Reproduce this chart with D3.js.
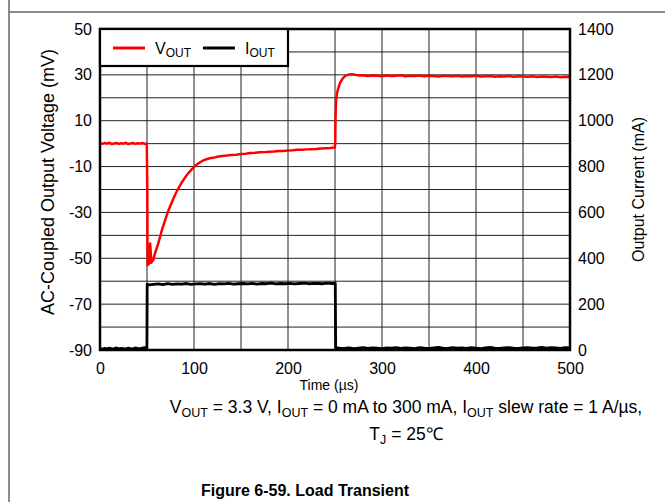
<!DOCTYPE html>
<html>
<head>
<meta charset="utf-8">
<script src="https://cdn.jsdelivr.net/npm/d3@7"></script>
<style>
  body { margin: 0; background: #fff; }
  svg { display: block; font-family: "Liberation Sans", Arial, sans-serif; }
</style>
</head>
<body>
<div id="chart"></div>
<script>
/* Load transient: AC-coupled Vout (left axis) and Iout (right axis) vs time */

// time axis (us) and tick labels
const xTicks = [0, 100, 200, 300, 400, 500];
const yLeftTicks = [-90, -70, -50, -30, -10, 10, 30, 50];
const yRightTicks = [0, 200, 400, 600, 800, 1000, 1200, 1400];

// Vout trace (mV)
const voutTime = [0, 2.5, 5, 7.5, 10, 12.5, 15, 17.5, 20, 22.5, 25, 27.5, 30, 32.5, 35, 37.5, 40, 42.5, 45, 47.5, 49.8,
  50.3, 50.6, 51.2, 52, 52.8, 53.3, 53.9, 54.6, 55.4, 56.5, 58, 60, 62, 64, 66, 68, 70, 72, 74, 76, 78, 80,
  83, 86, 89, 92, 95, 98, 101, 104, 107, 110, 114, 118, 122, 126, 130, 135, 140, 145, 150, 155, 160, 165,
  170, 175, 180, 185, 190, 195, 200, 205, 210, 215, 220, 225, 230, 235, 240, 245, 249.8,
  250.2, 250.6, 251.2, 252, 253, 254.5, 256, 258, 260, 262, 265, 268, 272, 276,
  280, 285, 290, 295, 300, 305, 310, 315, 320, 325, 330, 335, 340, 345, 350, 355, 360, 365, 370, 375,
  380, 385, 390, 395, 400, 405, 410, 415, 420, 425, 430, 435, 440, 445, 450, 455, 460, 465, 470, 475,
  480, 485, 490, 495, 500];
const voutMv = [0.2, -0.1, 0.3, 0.0, 0.4, -0.2, 0.1, 0.3, -0.1, 0.2, 0.0, 0.4, -0.2, 0.1, 0.3, -0.1, 0.2, 0.0, 0.3, -0.1, 0.1,
  -20, -53, -51, -52.5, -46, -43.5, -47, -52, -50.5, -51, -48.5, -46, -43.5, -40.5, -37.5, -35, -32.5, -30, -28, -26, -24, -22.2,
  -19.8, -17.6, -15.7, -13.9, -12.4, -11, -9.8, -8.8, -8, -7.3, -6.7, -6.3, -6.0, -5.6, -5.4, -5.2, -4.9, -4.8, -4.5, -4.4, -4.1, -4.0,
  -3.8, -3.7, -3.5, -3.4, -3.2, -3.2, -3.0, -2.9, -2.7, -2.7, -2.5, -2.4, -2.3, -2.1, -2.0, -1.9, -1.7,
  0, 12, 19, 21.5, 23.5, 25.5, 27, 28.3, 29.2, 29.8, 30.2, 30.3, 30.0, 29.7,
  29.8, 29.5, 29.7, 29.6, 29.4, 29.7, 29.5, 29.6, 29.8, 29.4, 29.6, 29.5, 29.7, 29.4, 29.6, 29.5, 29.3, 29.6, 29.5, 29.4,
  29.6, 29.3, 29.5, 29.4, 29.6, 29.3, 29.4, 29.5, 29.2, 29.4, 29.3, 29.5, 29.2, 29.4, 29.3, 29.2, 29.4, 29.1, 29.3, 29.2,
  29.1, 29.3, 29.0, 29.2, 29.1];

// Iout trace (mA)
const ioutTime = [0, 2.5, 5, 7.5, 10, 12.5, 15, 17.5, 20, 22.5, 25, 27.5, 30, 32.5, 35, 37.5, 40, 42.5, 45, 47.5, 49.9,
  50.2, 52, 57, 62, 67, 72, 77, 82, 87, 92, 97, 102, 107, 112, 117, 122, 127, 132, 137, 142, 147, 152,
  157, 162, 167, 172, 177, 182, 187, 192, 197, 202, 207, 212, 217, 222, 227, 232, 237, 242, 247, 250.3,
  250.7, 255, 260, 265, 270, 275, 280, 285, 290, 295, 300, 305, 310, 315, 320, 325, 330, 335, 340, 345,
  350, 355, 360, 365, 370, 375, 380, 385, 390, 395, 400, 405, 410, 415, 420, 425, 430, 435, 440, 445,
  450, 455, 460, 465, 470, 475, 480, 485, 490, 495, 500];
const ioutMa = [6, 4, 7, 5, 8, 5, 6, 9, 5, 7, 6, 4, 8, 6, 5, 9, 7, 6, 8, 10, 7,
  287, 284, 286, 288, 285, 289, 286, 288, 287, 290, 286, 288, 289, 287, 290, 286, 289, 288, 291, 287, 289, 290,
  288, 291, 287, 290, 289, 292, 288, 290, 289, 291, 288, 290, 292, 289, 291, 290, 289, 292, 290, 291,
  10, 8, 7, 9, 6, 8, 10, 7, 9, 8, 6, 9, 8, 10, 7, 9, 8, 6, 10, 8,
  7, 9, 11, 8, 7, 10, 8, 9, 7, 10, 8, 6, 9, 11, 8, 7, 9, 10, 8, 7,
  9, 10, 8, 9, 11, 8, 10, 9, 7, 10, 9];

const width = 665, height = 502,
      margin = ({ top: 29, right: 95, bottom: 152, left: 100 });

const svg = d3.select("#chart")
    .append("svg")
    .attr("width", width)
    .attr("height", height);

// page frame bits of the datasheet
svg.append("line").attr("x1", 9).attr("x2", 9).attr("y1", 0).attr("y2", height)
    .attr("stroke", "#666").attr("stroke-width", 1.5);
svg.append("line").attr("x1", 9).attr("x2", width).attr("y1", 12).attr("y2", 12)
    .attr("stroke", "#666").attr("stroke-width", 1.5);

const x = d3.scaleLinear().domain([0, 500]).range([margin.left, width - margin.right]);
const yL = d3.scaleLinear().domain([-90, 50]).range([height - margin.bottom, margin.top]);
const yR = d3.scaleLinear().domain([0, 1400]).range([height - margin.bottom, margin.top]);

// grid
const grid = svg.append("g").attr("stroke", "#222").attr("stroke-width", 1);
grid.selectAll(".gx").data(d3.range(50, 500, 50)).join("line")
    .attr("x1", d => x(d)).attr("x2", d => x(d))
    .attr("y1", yL(-90)).attr("y2", yL(50));
grid.selectAll(".gy").data(d3.range(-80, 50, 10)).join("line")
    .attr("x1", x(0)).attr("x2", x(500))
    .attr("y1", d => yL(d)).attr("y2", d => yL(d));

// traces
const vLine = d3.line().x((d, i) => x(voutTime[i])).y(d => yL(d));
const iLine = d3.line().x((d, i) => x(ioutTime[i])).y(d => yR(d));

svg.append("path").datum(ioutMa)
    .attr("fill", "none").attr("stroke", "#000").attr("stroke-width", 2.8)
    .attr("stroke-linejoin", "round")
    .attr("d", iLine);

svg.append("path").datum(voutMv)
    .attr("fill", "none").attr("stroke", "#ff0000").attr("stroke-width", 2.5)
    .attr("stroke-linejoin", "round")
    .attr("d", vLine);

// plot frame
svg.append("rect")
    .attr("x", x(0)).attr("y", yL(50))
    .attr("width", x(500) - x(0)).attr("height", yL(-90) - yL(50))
    .attr("fill", "none").attr("stroke", "#000").attr("stroke-width", 2.5);

// axes (labels only, no tick marks)
const plain = d => String(d);
const axB = svg.append("g")
    .attr("transform", `translate(0,${yL(-90)})`)
    .call(d3.axisBottom(x).tickValues(xTicks).tickFormat(plain).tickSize(0).tickPadding(13));
const axL = svg.append("g")
    .attr("transform", `translate(${x(0)},0)`)
    .call(d3.axisLeft(yL).tickValues(yLeftTicks).tickFormat(plain).tickSize(0).tickPadding(8));
const axR = svg.append("g")
    .attr("transform", `translate(${x(500)},0)`)
    .call(d3.axisRight(yR).tickValues(yRightTicks).tickFormat(plain).tickSize(0).tickPadding(8));

for (let ax of [axB, axL, axR]) {
    ax.select(".domain").remove();
    ax.selectAll("text")
        .attr("font-family", "Liberation Sans, Arial, sans-serif")
        .attr("font-size", 16)
        .attr("fill", "#000");
}

// axis titles
svg.append("text")
    .attr("x", 329).attr("y", 390)
    .attr("text-anchor", "middle").attr("font-size", 14)
    .text("Time (\u00b5s)");

svg.append("text")
    .attr("transform", "translate(54,182) rotate(-90)")
    .attr("text-anchor", "middle").attr("font-size", 18)
    .text("AC-Coupled Output Voltage (mV)");

svg.append("text")
    .attr("transform", `translate(644,${(yL(50) + yL(-90)) / 2}) rotate(-90)`)
    .attr("text-anchor", "middle").attr("font-size", 16)
    .text("Output Current (mA)");

// legend
const legend = svg.append("g");
legend.append("rect")
    .attr("x", x(0)).attr("y", yL(50))
    .attr("width", 188).attr("height", 37)
    .attr("fill", "#fff").attr("stroke", "#000").attr("stroke-width", 2.2);

const items = [
    { name: "V", sub: "OUT", color: "#ff0000", x0: 113 },
    { name: "I", sub: "OUT", color: "#000", x0: 203 }
];
for (let it of items) {
    legend.append("line")
        .attr("x1", it.x0).attr("x2", it.x0 + 32)
        .attr("y1", 48).attr("y2", 48)
        .attr("stroke", it.color).attr("stroke-width", 3);
    let t = legend.append("text")
        .attr("x", it.x0 + 42).attr("y", 54)
        .attr("font-size", 16);
    t.append("tspan").text(it.name);
    t.append("tspan").attr("dy", 3).attr("font-size", 12).text(it.sub);
}

// conditions and figure caption
const cap = svg.append("text")
    .attr("x", 406).attr("y", 413)
    .attr("text-anchor", "middle").attr("font-size", 17.5);
cap.append("tspan").text("V");
cap.append("tspan").attr("dy", 4).attr("font-size", 12.5).text("OUT");
cap.append("tspan").attr("dy", -4).text(" = 3.3 V, I");
cap.append("tspan").attr("dy", 4).attr("font-size", 12.5).text("OUT");
cap.append("tspan").attr("dy", -4).text(" = 0 mA to 300 mA, I");
cap.append("tspan").attr("dy", 4).attr("font-size", 12.5).text("OUT");
cap.append("tspan").attr("dy", -4).text(" slew rate = 1 A/\u00b5s,");

const cap2 = svg.append("text")
    .attr("x", 406).attr("y", 440)
    .attr("text-anchor", "middle").attr("font-size", 17.5);
cap2.append("tspan").text("T");
cap2.append("tspan").attr("dy", 4).attr("font-size", 12.5).text("J");
cap2.append("tspan").attr("dy", -4).text(" = 25\u2103");

svg.append("text")
    .attr("x", 305).attr("y", 496)
    .attr("text-anchor", "middle").attr("font-size", 16).attr("font-weight", "bold")
    .text("Figure 6-59. Load Transient");
</script>
</body>
</html>
